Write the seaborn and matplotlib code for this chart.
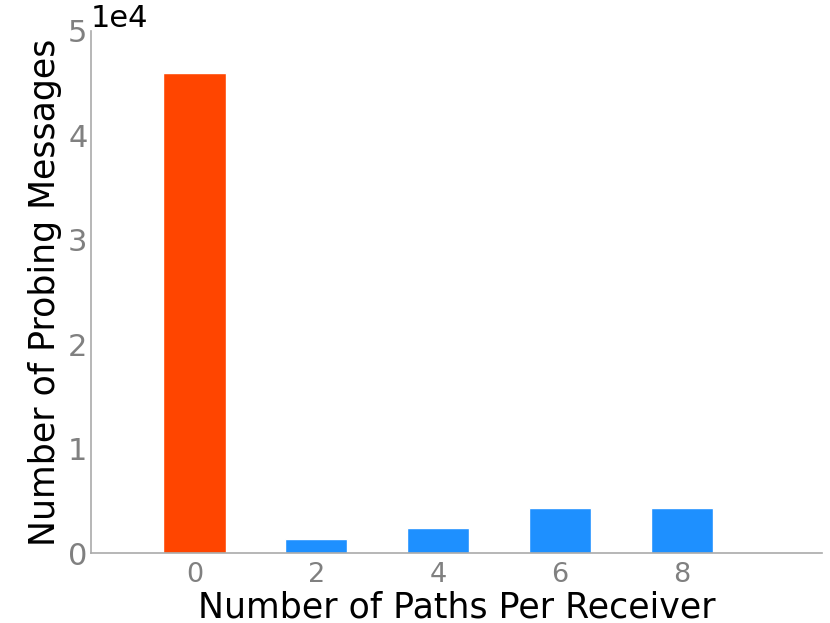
import matplotlib
matplotlib.use("Agg")
import matplotlib.pyplot as plt
import seaborn as sns
import pandas as pd

paths = [0, 2, 4, 6, 8]
messages = [46000, 1340, 2450, 4330, 4330]
bar_colors = ["#FF4500", "#1E90FF", "#1E90FF", "#1E90FF", "#1E90FF"]

sns.set_style("white")
plt.rcParams["font.family"] = ["DejaVu Sans"]

df = pd.DataFrame({"paths": paths, "messages": messages})

fig = plt.figure(figsize=(8.3, 6.23), dpi=100)
ax = fig.add_axes([0.1096, 0.1119, 0.8804, 0.8388])

sns.barplot(data=df, x="paths", y="messages", hue="paths",
            palette=dict(zip(paths, bar_colors)), native_scale=True,
            width=0.51, dodge=False, legend=False, saturation=1, ax=ax)

ax.set_xlim(-1.7, 10.3)
ax.set_ylim(0, 50000)
ax.set_xticks(paths)
ax.set_yticks([0, 10000, 20000, 30000, 40000, 50000])
ax.ticklabel_format(axis="y", style="sci", scilimits=(0, 0))

for side in ["top", "right"]:
    ax.spines[side].set_visible(False)
for side in ["left", "bottom"]:
    ax.spines[side].set_color("#aaaaaa")
    ax.spines[side].set_linewidth(1.2)

ax.tick_params(axis="both", direction="in", length=5, width=1,
               color="#aaaaaa", labelcolor="#808080")
ax.tick_params(axis="x", labelsize=19.5, pad=6)
ax.tick_params(axis="y", labelsize=22, pad=2.5)
ax.yaxis.get_offset_text().set_fontsize(22)
ax.yaxis.get_offset_text().set_color("black")
ax.set_xlabel("Number of Paths Per Receiver", fontsize=25, color="black", labelpad=2)
ax.set_ylabel("Number of Probing Messages", fontsize=25, color="black", labelpad=4)

fig.savefig("out.png", dpi=100)
